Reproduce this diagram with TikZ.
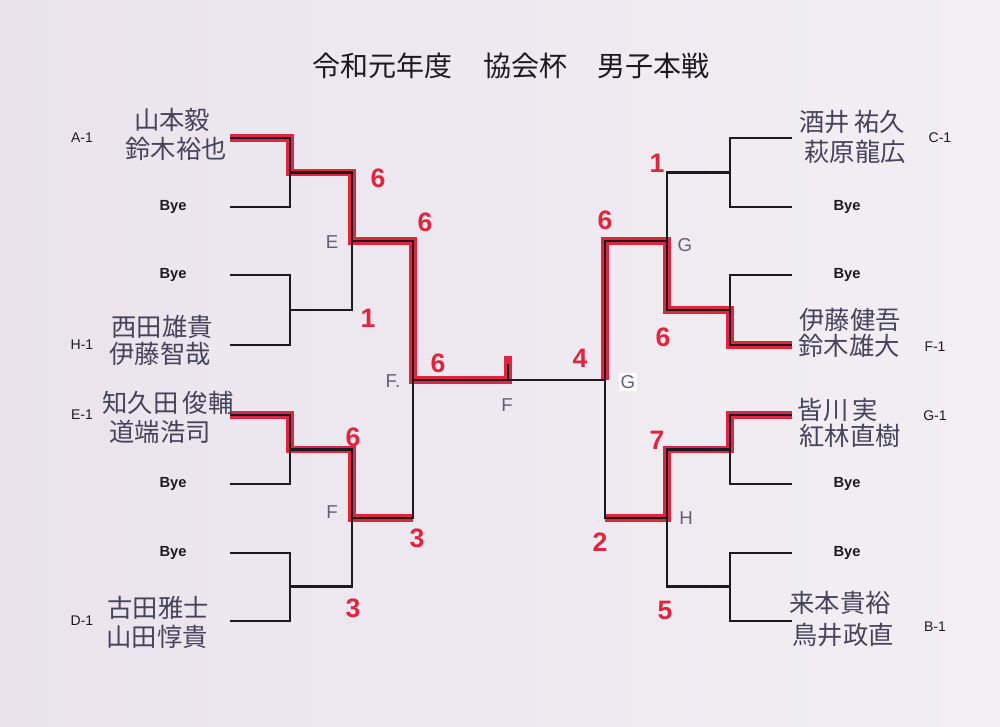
\documentclass[tikz,border=0pt]{standalone}
\usepackage{fontspec}
\setmainfont{Liberation Sans}
\newfontfamily\jpfont{Noto Sans CJK JP}
\definecolor{paper}{HTML}{EAE3EC}
\definecolor{paperlight}{HTML}{F2EFF4}
\definecolor{marker}{HTML}{E0263F}
\definecolor{ink}{HTML}{1C1A20}
\definecolor{pen}{HTML}{45445A}

\begin{document}
\begin{tikzpicture}[
    x=0.75pt, y=-0.75pt,
    bracket/.style={line width=2pt, draw=ink},
    win/.style={line width=5.5pt, draw=marker},
    score/.style={text=marker, font=\fontsize{20}{20}\selectfont\bfseries},
    seed/.style={text=ink, font=\fontsize{10.5}{11}\selectfont},
    bye/.style={text=ink, font=\fontsize{11}{12}\selectfont\bfseries},
    player/.style={text=pen, font=\jpfont\fontsize{19}{20}\selectfont},
    court/.style={text=pen!85, font=\fontsize{14}{14}\selectfont}
]

\useasboundingbox (0,0) rectangle (1000,726);
\fill[left color=paper, right color=paperlight] (0,0) rectangle (1000,726);

% slot ends and junctions
\foreach \y [count=\i] in {138,207,275,345,415,484,553,621}{
  \coordinate (L\i) at (230,\y);
  \coordinate (R\i) at (792,\y);
}
\foreach \n/\y in {1/172.5,2/310,3/449.5,4/586.5}{
  \coordinate (lq\n) at (290,\y);
  \coordinate (rq\n) at (730,\y);
}
\coordinate (ls1) at (352,241);
\coordinate (ls2) at (352,518);
\coordinate (rs1) at (667,241);
\coordinate (rs2) at (667,518);
\coordinate (lf) at (413,380);
\coordinate (rf) at (605,380);
\coordinate (mid) at (508,380);
\coordinate (tick) at (508,364);
\coordinate (flag) at (508,356);

% winners
\draw[win] (L1) -| (lq1) -| (ls1) -| (lf) -- (mid) -- (flag);
\draw[win] (L5) -| (lq3) -| (ls2) -- (ls2 -| lf);
\draw[win] (R4) -| (rq2) -| (rs1) -| (rf);
\draw[win] (R5) -| (rq3) -| (rs2) -- (rs2 -| rf);

% bracket
\foreach \a/\b/\q in {1/2/1,3/4/2,5/6/3,7/8/4}{
  \draw[bracket] (L\a) -| (lq\q) |- (L\b);
  \draw[bracket] (R\a) -| (rq\q) |- (R\b);
}
\foreach \s in {l,r}{
  \draw[bracket] (\s q1) -| (\s s1) |- (\s q2);
  \draw[bracket] (\s q3) -| (\s s2) |- (\s q4);
  \draw[bracket] (\s s1) -| (\s f) |- (\s s2);
}
\draw[bracket] (lf) -- (rf);
\draw[bracket] (mid) -- (tick);

\node[text=ink, font=\jpfont\fontsize{21}{21}\selectfont] (title) at (511,66)
  {令和元年度\hspace{1.1em}協会杯\hspace{1.1em}男子本戦};

\node[seed] (seedA) at (82,138) {A-1};
\node[seed] (seedH) at (82,345) {H-1};
\node[seed] (seedE) at (82,415) {E-1};
\node[seed] (seedD) at (82,621) {D-1};
\node[seed] (seedC) at (940,138) {C-1};
\node[seed] (seedF) at (935,347) {F-1};
\node[seed] (seedG) at (935,416) {G-1};
\node[seed] (seedB) at (935,627) {B-1};

\foreach \y [count=\i] in {207,275,484,553}{
  \node[bye] (byeL\i) at (173,\y) {Bye};
  \node[bye] (byeR\i) at (847,\y) {Bye};
}

\node[player] (pA1) at (172,120) {山本毅};
\node[player] (pA2) at (176,149) {鈴木裕也};
\node[player] (pH1) at (162,327) {西田雄貴};
\node[player] (pH2) at (160,354) {伊藤智哉};
\node[player] (pE1) at (168,403) {知久田\,俊輔};
\node[player] (pE2) at (160,432) {道端浩司};
\node[player] (pD1) at (158,608) {古田雅士};
\node[player] (pD2) at (157,637) {山田惇貴};
\node[player] (pC1) at (852,122) {酒井\,祐久};
\node[player] (pC2) at (855,152) {萩原龍広};
\node[player] (pF1) at (850,320) {伊藤健吾};
\node[player] (pF2) at (849,346) {鈴木雄大};
\node[player] (pG1) at (838,410) {皆川\,実};
\node[player] (pG2) at (850,436) {紅林直樹};
\node[player] (pB1) at (840,603) {来本貴裕};
\node[player] (pB2) at (843,635) {鳥井政直};

\node[court] (cE) at (332,242) {E};
\node[court] (cF1) at (393,381) {F.};
\node[court] (cF2) at (507,405) {F};
\node[court] (cF3) at (332,512) {F};
\node[court, fill=white, inner sep=1.5pt] (cG1) at (628,382) {G};
\node[court] (cG2) at (685,245) {G};
\node[court] (cH) at (686,518) {H};

\foreach \p/\t [count=\i] in {{378,178}/6,{425,222}/6,{368,318}/1,{438,363}/6,
    {353,437}/6,{417,538}/3,{353,608}/3,{657,163}/1,{605,220}/6,{663,337}/6,
    {580,358}/4,{657,440}/7,{600,542}/2,{665,610}/5}{
  \node[score] (sc\i) at (\p) {\t};
}

\end{tikzpicture}
\end{document}
